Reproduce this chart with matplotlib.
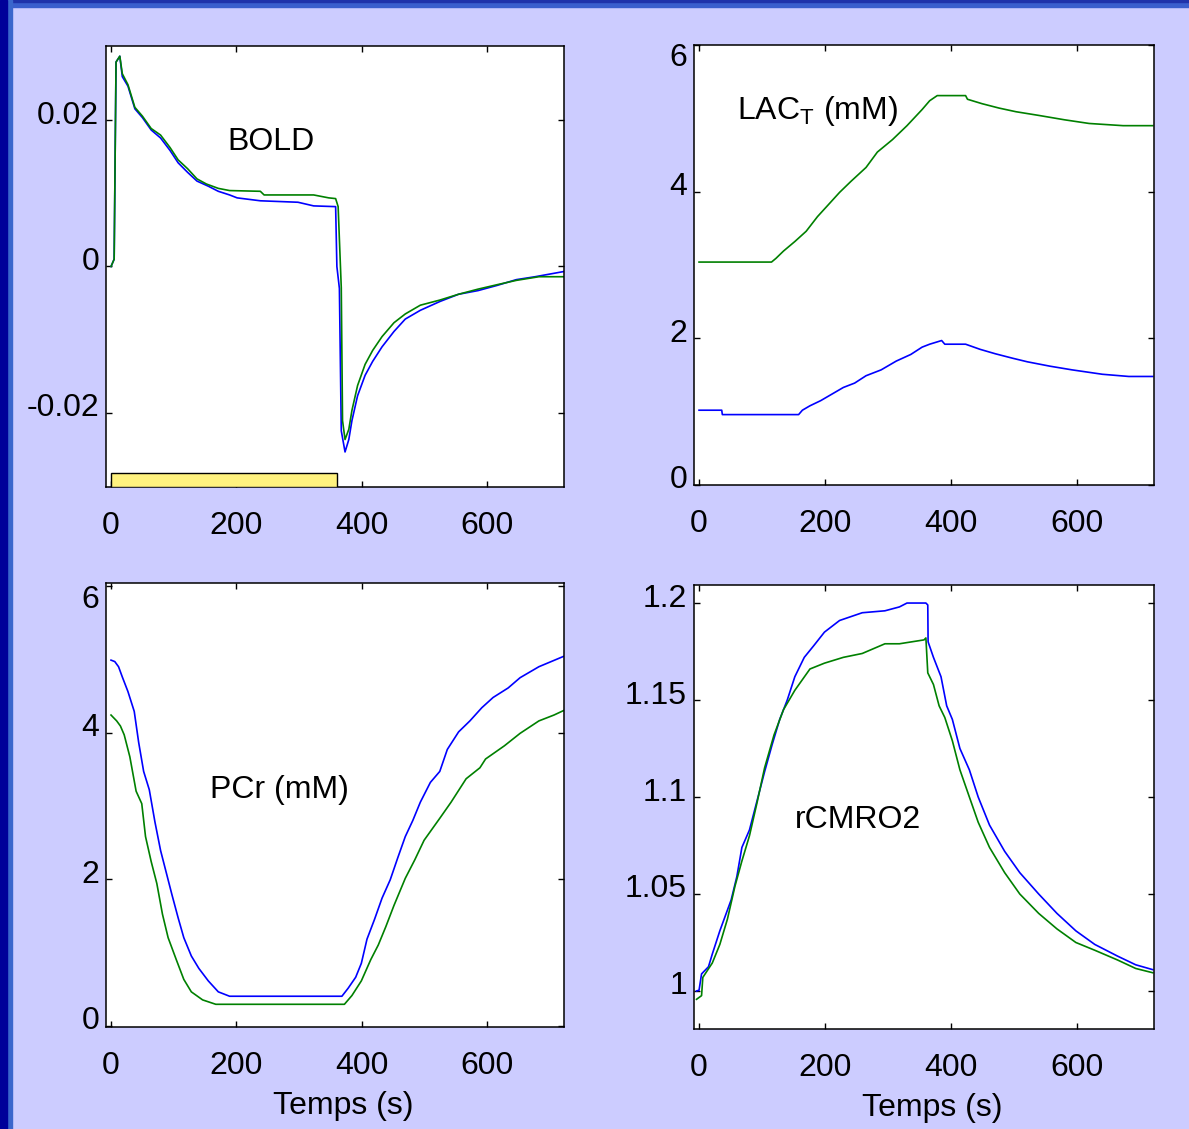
import matplotlib
matplotlib.use("Agg")
import matplotlib.pyplot as plt
from matplotlib.patches import Rectangle
from matplotlib.transforms import ScaledTranslation

plt.rcParams['font.family'] = ['Liberation Sans', 'DejaVu Sans']
plt.rcParams['mathtext.fontset'] = 'custom'
plt.rcParams['mathtext.rm'] = 'Liberation Sans'

# ── BOLD ──
bold_t_blue = [0, 5, 8, 14, 18, 27, 38, 50, 64, 79, 94, 107, 122, 137, 155, 171, 189,
               201, 238, 298, 323, 358, 360, 364, 367, 373, 379, 384, 393, 405, 417,
               432, 451, 469, 493, 524, 554, 585, 615, 646, 676, 721]
bold_blue = [0, 0.001, 0.028, 0.0288, 0.026, 0.0247, 0.0216, 0.0204, 0.0187, 0.0176,
             0.0159, 0.0142, 0.0129, 0.0117, 0.0110, 0.0103, 0.0098, 0.0094, 0.0090,
             0.0088, 0.0083, 0.0082, 0.0, -0.003, -0.0225, -0.0254, -0.0237, -0.0211,
             -0.0177, -0.0149, -0.0130, -0.0110, -0.0089, -0.0072, -0.0060, -0.0048,
             -0.0038, -0.0033, -0.0026, -0.0018, -0.0014, -0.0007]
bold_t_green = [0, 5, 8, 14, 18, 27, 38, 50, 64, 79, 94, 107, 122, 137, 152, 171, 189,
                238, 244, 323, 347, 358, 362, 367, 369, 373, 379, 384, 393, 405, 417,
                432, 451, 469, 493, 524, 554, 585, 615, 646, 682, 721]
bold_green = [0, 0.001, 0.028, 0.0288, 0.0264, 0.0249, 0.0218, 0.0206, 0.0189, 0.0180,
              0.0163, 0.0146, 0.0134, 0.0120, 0.0113, 0.0107, 0.0104, 0.0103, 0.0098,
              0.0098, 0.0094, 0.0093, 0.0082, -0.0029, -0.0211, -0.0237, -0.0223,
              -0.0197, -0.0163, -0.0134, -0.0115, -0.0096, -0.0077, -0.0065, -0.0053,
              -0.0046, -0.0038, -0.0031, -0.0025, -0.0019, -0.0014, -0.0014]
stim_start, stim_end = 0, 360

# ── LAC_T ──
lac_t_green = [0, 115, 122, 134, 152, 170, 188, 205, 223, 241, 265, 283, 307, 330, 354,
               366, 378, 423, 426, 449, 476, 503, 539, 580, 619, 673, 720]
lac_green = [3.04, 3.04, 3.09, 3.19, 3.32, 3.46, 3.66, 3.82, 3.99, 4.14, 4.33, 4.54,
             4.71, 4.90, 5.12, 5.24, 5.31, 5.31, 5.26, 5.20, 5.14, 5.09, 5.04, 4.98,
             4.93, 4.90, 4.90]
lac_t_blue = [0, 36, 37, 158, 164, 176, 193, 211, 229, 247, 265, 289, 313, 336, 354,
              366, 385, 390, 423, 446, 470, 497, 521, 557, 592, 640, 682, 720]
lac_blue = [1.02, 1.02, 0.96, 0.96, 1.02, 1.08, 1.15, 1.24, 1.33, 1.39, 1.49, 1.57,
            1.69, 1.78, 1.88, 1.92, 1.97, 1.92, 1.92, 1.85, 1.79, 1.73, 1.68, 1.62,
            1.57, 1.51, 1.48, 1.48]

# ── PCr ──
pcr_t_blue = [0, 6, 12, 18, 27, 37, 44, 52, 61, 70, 79, 88, 97, 107, 116, 128, 140,
              155, 171, 189, 368, 378, 390, 399, 408, 420, 432, 445, 457, 469, 481,
              493, 509, 524, 536, 554, 572, 591, 609, 633, 652, 682, 721]
pcr_blue = [4.99, 4.97, 4.90, 4.76, 4.56, 4.29, 3.87, 3.47, 3.22, 2.78, 2.39, 2.09,
            1.79, 1.47, 1.20, 0.95, 0.78, 0.61, 0.46, 0.40, 0.40, 0.51, 0.66, 0.85,
            1.18, 1.45, 1.74, 1.99, 2.29, 2.58, 2.80, 3.05, 3.32, 3.47, 3.77, 4.01,
            4.16, 4.34, 4.48, 4.61, 4.75, 4.90, 5.04]
pcr_t_green = [0, 9, 15, 21, 30, 40, 49, 55, 64, 73, 82, 91, 104, 116, 128, 146, 167,
               372, 384, 399, 414, 426, 438, 451, 469, 484, 499, 524, 542, 566, 588,
               597, 627, 652, 682, 706, 721]
pcr_green = [4.24, 4.16, 4.09, 3.97, 3.67, 3.20, 3.03, 2.58, 2.24, 1.94, 1.52, 1.20,
             0.90, 0.63, 0.46, 0.35, 0.29, 0.29, 0.41, 0.61, 0.90, 1.10, 1.35, 1.64,
             2.01, 2.26, 2.53, 2.83, 3.05, 3.37, 3.52, 3.64, 3.82, 3.99, 4.16, 4.24,
             4.30]

# ── rCMRO2 ──
cmr_t_blue = [-4, 0, 4, 15, 21, 33, 42, 51, 60, 68, 80, 92, 104, 116, 128, 140, 152,
              167, 182, 199, 223, 259, 295, 318, 330, 360, 363, 363.5, 372, 384, 393,
              402, 414, 429, 443, 461, 485, 509, 539, 568, 598, 628, 664, 693, 720]
cmr_blue = [1.0, 1.0004, 1.0088, 1.0125, 1.019, 1.031, 1.039, 1.047, 1.059, 1.074,
            1.083, 1.098, 1.113, 1.127, 1.140, 1.150, 1.162, 1.172, 1.178, 1.185,
            1.191, 1.195, 1.196, 1.198, 1.200, 1.200, 1.199, 1.180, 1.172, 1.162,
            1.147, 1.140, 1.125, 1.114, 1.100, 1.0855, 1.072, 1.061, 1.050, 1.040,
            1.031, 1.024, 1.018, 1.0135, 1.011]
cmr_t_green = [-4, 4, 6, 21, 33, 45, 57, 68, 80, 92, 104, 119, 134, 152, 176, 199, 229,
               259, 295, 318, 357, 360, 363, 372, 381, 390, 402, 414, 429, 443, 461,
               485, 509, 539, 568, 598, 628, 664, 693, 720]
cmr_green = [0.9957, 0.9976, 1.007, 1.0144, 1.024, 1.037, 1.054, 1.067, 1.080, 1.097,
             1.115, 1.132, 1.145, 1.155, 1.166, 1.169, 1.172, 1.174, 1.179, 1.179,
             1.181, 1.182, 1.164, 1.158, 1.147, 1.141, 1.129, 1.114, 1.100, 1.087,
             1.074, 1.061, 1.050, 1.040, 1.032, 1.025, 1.021, 1.016, 1.0116, 1.0094]

BLUE = "#0000ff"
GREEN = "#008000"
W, H = 1189, 1129

fig = plt.figure(figsize=(W / 100, H / 100), dpi=100, facecolor="#ccccff")

# bordure bleue (haut + gauche)
fig.patches.append(Rectangle((0, 1 - 7 / H), 1, 7 / H, transform=fig.transFigure,
                             color="#3a5fcd", zorder=0))
fig.patches.append(Rectangle((0, 1 - 2 / H), 1, 2 / H, transform=fig.transFigure,
                             color="#1f33aa", zorder=0))
fig.patches.append(Rectangle((0, 0), 12 / W, 1, transform=fig.transFigure,
                             color="#3a66cc", zorder=0))
fig.patches.append(Rectangle((0, 0), 7 / W, 1, transform=fig.transFigure,
                             color="#000099", zorder=0))

ax_bold = fig.add_axes([106 / W, 1 - 487 / H, 458 / W, 441 / H])
ax_lac = fig.add_axes([694 / W, 1 - 485 / H, 460 / W, 440 / H])
ax_pcr = fig.add_axes([106 / W, 1 - 1027 / H, 458 / W, 444.5 / H])
ax_cmr = fig.add_axes([694 / W, 1 - 1029 / H, 460 / W, 444 / H])

FS = 23
LW = 1.2

ax_bold.plot(bold_t_blue, bold_blue, color=BLUE, lw=LW)
ax_bold.plot(bold_t_green, bold_green, color=GREEN, lw=LW)
ax_bold.add_patch(Rectangle((stim_start, -0.0302), stim_end - stim_start, 0.0019,
                            facecolor="#fff27f", edgecolor="black", lw=1.0, zorder=3))
ax_bold.set_ylim(-0.0302, 0.0302)
ax_bold.set_yticks([-0.02, 0, 0.02])
ax_bold.set_yticklabels(["-0.02", "0", "0.02"])
ax_bold.text(255, 0.0171, "BOLD", fontsize=FS, ha="center", va="center")

ax_lac.plot(lac_t_blue, lac_blue, color=BLUE, lw=LW)
ax_lac.plot(lac_t_green, lac_green, color=GREEN, lw=LW)
ax_lac.set_ylim(0, 6)
ax_lac.set_yticks([0, 2, 4, 6])
ax_lac.text(61, 5.1, r"LAC$_{\mathrm{T}}$ (mM)", fontsize=FS, ha="left", va="center")

ax_pcr.plot(pcr_t_blue, pcr_blue, color=BLUE, lw=LW)
ax_pcr.plot(pcr_t_green, pcr_green, color=GREEN, lw=LW)
ax_pcr.set_ylim(-0.02, 6.05)
ax_pcr.set_yticks([0, 2, 4, 6])
ax_pcr.text(268, 3.21, "PCr (mM)", fontsize=FS, ha="center", va="center")

ax_cmr.plot(cmr_t_blue, cmr_blue, color=BLUE, lw=LW)
ax_cmr.plot(cmr_t_green, cmr_green, color=GREEN, lw=LW)
ax_cmr.set_ylim(0.9804, 1.2093)
ax_cmr.set_yticks([1, 1.05, 1.1, 1.15, 1.2])
ax_cmr.set_yticklabels(["1", "1.05", "1.1", "1.15", "1.2"])
ax_cmr.text(252, 1.088, "rCMRO2", fontsize=FS, ha="center", va="center")

up = ScaledTranslation(0, 0.08, fig.dpi_scale_trans)
down = ScaledTranslation(0, -0.10, fig.dpi_scale_trans)
for ax in [ax_bold, ax_lac, ax_pcr, ax_cmr]:
    ax.set_facecolor("white")
    ax.set_xlim(-8, 722)
    ax.set_xticks([0, 200, 400, 600])
    ax.tick_params(direction="in", top=True, right=True, length=4, width=1,
                   labelsize=FS, colors="black")
    ax.tick_params(axis="x", pad=17)
    ax.tick_params(axis="y", pad=5)
    for sp in ax.spines.values():
        sp.set_linewidth(1.1)
    for lbl in ax.get_yticklabels():
        # le "6" du haut est repoussé sous la graduation, les autres au-dessus
        off = down if lbl.get_text() == "6" else up
        lbl.set_transform(lbl.get_transform() + off)

for ax in [ax_pcr, ax_cmr]:
    ax.set_xlabel("Temps (s)", fontsize=FS)
    ax.xaxis.set_label_coords(0.517, -0.145)

fig.savefig("out.png", dpi=100, facecolor=fig.get_facecolor())
